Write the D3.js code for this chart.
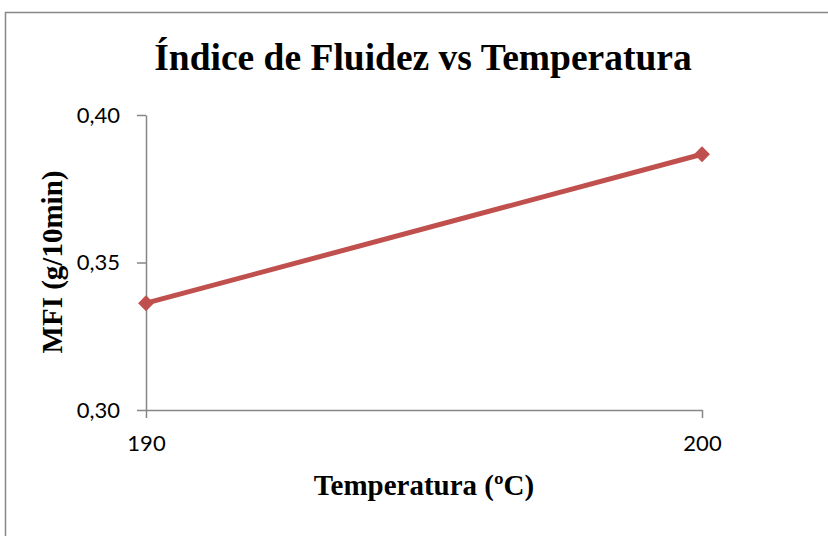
<!DOCTYPE html>
<html>
<head>
<meta charset="utf-8">
<script src="https://cdn.jsdelivr.net/npm/d3@7"></script>
<style>
  body { margin: 0; background: #fff; }
  svg { display: block; }
</style>
</head>
<body>
<svg id="chart"></svg>
<script>
const temperatures = ["190", "200"];
const mfiValues = [0.3362, 0.3867];
const yTicks = [0.30, 0.35, 0.40];

const TITLE = "Índice de Fluidez vs Temperatura";
const XLABEL = "Temperatura (ºC)";
const YLABEL = "MFI (g/10min)";

const width = 828;
const height = 536;
const margin = { top: 115, right: 126, bottom: 126, left: 146 };

const svg = d3.select("#chart").attr("width", width).attr("height", height);

// chart frame: only top and left edges are inside the picture
svg.append("path")
  .attr("d", `M5.5,${height}V12.5H${width}`)
  .attr("fill", "none").attr("stroke", "#878787").attr("stroke-width", 1.5);

const innerWidth = width - margin.left - margin.right;
const innerHeight = height - margin.top - margin.bottom;

const chart = svg.append("g")
  .attr("transform", `translate(${margin.left}, ${margin.top})`);

const xscale = d3.scalePoint().domain(temperatures).range([0, innerWidth]);
const yscale = d3.scaleLinear().domain([0.30, 0.40]).range([innerHeight, 0]);

const fmt = (d) => d3.format(".2f")(d).replace(".", ",");

const yaxis = d3.axisLeft(yscale).tickValues(yTicks).tickFormat(fmt)
  .tickSize(9).tickSizeOuter(0).tickPadding(17);
const xaxis = d3.axisBottom(xscale).tickSize(8).tickSizeOuter(0).tickPadding(17);

const yaxisGroup = chart.append("g").call(yaxis);
const xaxisGroup = chart.append("g")
  .attr("transform", `translate(0, ${innerHeight})`)
  .call(xaxis);

[yaxisGroup, xaxisGroup].forEach((g) => {
  g.selectAll("path, line").attr("stroke", "#868686").attr("stroke-width", 1.5);
  g.selectAll("text")
    .style("font-family", "Lato, 'Open Sans', sans-serif")
    .style("font-size", "22px")
    .attr("fill", "#000");
});

const line = d3.line()
  .x((d, i) => xscale(temperatures[i]))
  .y((d) => yscale(d));

chart.append("path")
  .attr("d", line(mfiValues))
  .attr("fill", "none")
  .attr("stroke", "#c0504d")
  .attr("stroke-width", 5);

chart.selectAll(".marker")
  .data(mfiValues)
  .join("path")
  .attr("class", "marker")
  .attr("d", d3.symbol(d3.symbolDiamond2, 160)())
  .attr("transform", (d, i) => `translate(${xscale(temperatures[i])}, ${yscale(d)})`)
  .attr("fill", "#c0504d");

const serif = "'Liberation Serif', 'Times New Roman', serif";

svg.append("text")
  .attr("x", 423).attr("y", 70)
  .attr("text-anchor", "middle")
  .style("font-family", serif)
  .style("font-weight", "bold")
  .style("font-size", "37.5px")
  .text(TITLE);

svg.append("text")
  .attr("x", 424).attr("y", 495)
  .attr("text-anchor", "middle")
  .style("font-family", serif)
  .style("font-weight", "bold")
  .style("font-size", "29px")
  .text(XLABEL);

svg.append("text")
  .attr("transform", `translate(62, 262) rotate(-90)`)
  .attr("text-anchor", "middle")
  .style("font-family", serif)
  .style("font-weight", "bold")
  .style("font-size", "29px")
  .text(YLABEL);
</script>
</body>
</html>
